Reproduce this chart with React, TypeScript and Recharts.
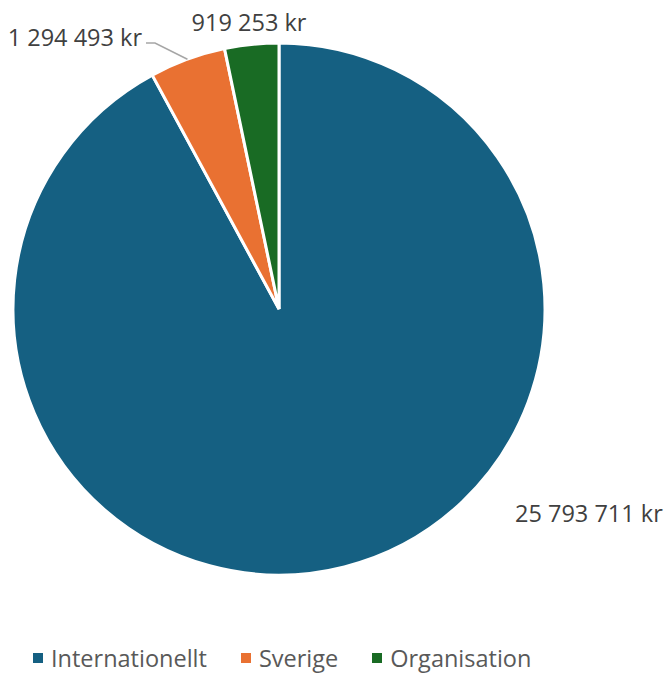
import { PieChart, Pie, Cell, Legend } from "recharts";

const categories = ["Internationellt", "Sverige", "Organisation"];
const amounts = [25793711, 1294493, 919253];
const colors = ["#156082", "#E97132", "#196B24"];

const FONT = "'Open Sans', 'Noto Sans', sans-serif";
const RAD = Math.PI / 180;

// where Excel put each data label, relative to the pie centre
const labelPlacement = [
  { dx: 236, dy: 204, anchor: "start" },
  { dx: -137, dy: -272, anchor: "end", leader: true },
  { dx: -30, dy: -287, anchor: "middle" },
];

const data = categories.map((name, i) => ({ name, value: amounts[i] }));

function formatKr(v: number) {
  return v.toString().replace(/\B(?=(\d{3})+(?!\d))/g, " ") + " kr";
}

function renderLabel(props: any) {
  const { cx, cy, midAngle, outerRadius, index, value } = props;
  const p = labelPlacement[index];
  const x = cx + p.dx;
  const y = cy + p.dy;
  let leader = null;
  if (p.leader) {
    const ex = cx + outerRadius * Math.cos(-midAngle * RAD);
    const ey = cy + outerRadius * Math.sin(-midAngle * RAD);
    const hy = y + 6;
    leader = (
      <polyline
        points={`${ex},${ey} ${x + 13},${hy} ${x + 4},${hy}`}
        fill="none"
        stroke="#a6a6a6"
        strokeWidth={1.5}
      />
    );
  }
  return (
    <g key={`lbl-${index}`}>
      {leader}
      <text
        x={x}
        y={y}
        textAnchor={p.anchor as any}
        dominantBaseline="central"
        fill="#404040"
        fontSize={23.5}
        fontFamily={FONT}
      >
        {formatKr(value)}
      </text>
    </g>
  );
}

function renderLegend() {
  return (
    <div
      style={{
        display: "flex",
        gap: 34,
        fontFamily: FONT,
        fontSize: 23.5,
        lineHeight: "22px",
        color: "#595959",
        whiteSpace: "nowrap",
      }}
    >
      {categories.map((c, i) => (
        <div key={c} style={{ display: "flex", alignItems: "center" }}>
          <span
            style={{ width: 10, height: 10, background: colors[i], marginRight: 8, display: "inline-block" }}
          />
          <span>{c}</span>
        </div>
      ))}
    </div>
  );
}

export default function App() {
  return (
    <div style={{ position: "absolute", left: 0, top: 0, width: 664, height: 675, background: "#fff" }}>
      <PieChart width={664} height={675} margin={{ top: 0, right: 0, bottom: 0, left: 0 }}>
        <Pie
          data={data}
          dataKey="value"
          nameKey="name"
          cx={279}
          cy={309}
          outerRadius={266}
          startAngle={90}
          endAngle={-270}
          stroke="#ffffff"
          strokeWidth={3}
          label={renderLabel}
          labelLine={false}
          isAnimationActive={false}
        >
          {data.map((d, i) => (
            <Cell key={d.name} fill={colors[i]} />
          ))}
        </Pie>
        <Legend
          content={renderLegend}
          wrapperStyle={{ position: "absolute", left: 33, top: 647, width: 620, height: 22 }}
        />
      </PieChart>
    </div>
  );
}
